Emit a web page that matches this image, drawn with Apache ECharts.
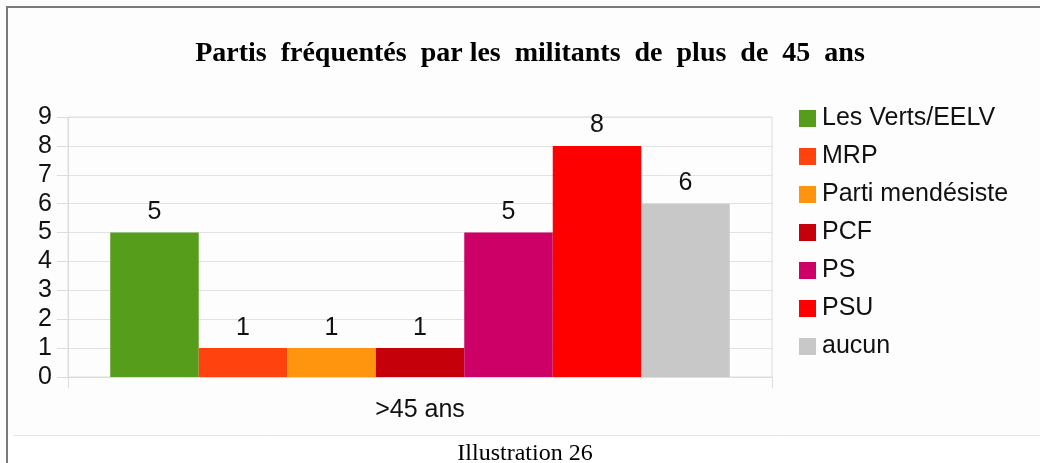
<!DOCTYPE html>
<html>
<head>
<meta charset="utf-8">
<script src="https://cdn.jsdelivr.net/npm/echarts@6/dist/echarts.min.js"></script>
<style>
  html, body { margin: 0; padding: 0; background: #fff; }
  #chart { width: 1040px; height: 463px; }
</style>
</head>
<body>
<div id="chart"></div>
<script>
  // donnees
  const categories = ['>45 ans']
  const partis = ['Les Verts/EELV', 'MRP', 'Parti mendésiste', 'PCF', 'PS', 'PSU', 'aucun']
  const valeurs = [5, 1, 1, 1, 5, 8, 6]
  const couleurs = ['#579d1c', '#ff420e', '#ff950e', '#c5000b', '#cc0066', '#ff0000', '#c8c8c8']
  const yTicks = [0, 1, 2, 3, 4, 5, 6, 7, 8, 9]

  const sansFont = '"Liberation Sans", Arial, sans-serif'
  const serifFont = '"Liberation Serif", "Times New Roman", serif'

  const series = partis.map((nom, i) => ({
    name: nom,
    type: 'bar',
    barGap: '0%',
    barCategoryGap: '12%',
    itemStyle: { color: couleurs[i] },
    label: {
      show: true,
      position: 'top',
      distance: 8,
      color: '#111',
      fontFamily: sansFont,
      fontSize: 25
    },
    data: [valeurs[i]]
  }))

  const option = {
    animation: false,
    backgroundColor: '#fdfdfd',
    title: [{
      // espaces larges comme dans l'original
      text: 'Partis  fréquentés  par les  militants  de  plus  de  45  ans',
      left: 525,
      top: 35,
      textAlign: 'center',
      textStyle: {
        fontFamily: serifFont,
        fontWeight: 'bold',
        fontSize: 28,
        color: '#000'
      }
    }, {
      text: 'Illustration 26',
      left: 520,
      top: 437,
      textAlign: 'center',
      textStyle: {
        fontFamily: serifFont,
        fontWeight: 'normal',
        fontSize: 24,
        color: '#000'
      }
    }],
    graphic: [
      { type: 'rect', shape: { x: 8, y: 436, width: 1032, height: 27 }, style: { fill: '#fff' }, z: -10 },
      { type: 'line', shape: { x1: 14, y1: 435.5, x2: 1040, y2: 435.5 }, style: { stroke: '#e4e4e4', lineWidth: 1 } },
      { type: 'line', shape: { x1: 7, y1: 7, x2: 1040, y2: 7 }, style: { stroke: '#7a7a7a', lineWidth: 2 } },
      { type: 'line', shape: { x1: 7, y1: 6, x2: 7, y2: 463 }, style: { stroke: '#7a7a7a', lineWidth: 2 } }
    ],
    legend: {
      orient: 'vertical',
      left: 799,
      top: 106,
      padding: 0,
      itemWidth: 17,
      itemHeight: 17,
      itemGap: 13,
      icon: 'rect',
      data: partis,
      textStyle: {
        fontFamily: sansFont,
        fontSize: 25,
        color: '#111',
        padding: [0, 0, 0, 1]
      }
    },
    grid: {
      left: 68,
      right: 268,
      top: 117,
      bottom: 86,
      show: true,
      borderColor: '#dcdcdc',
      borderWidth: 1
    },
    xAxis: {
      type: 'category',
      data: categories,
      axisLine: { lineStyle: { color: '#dcdcdc' } },
      axisTick: { show: true, length: 11, lineStyle: { color: '#dcdcdc' } },
      axisLabel: {
        margin: 21,
        color: '#111',
        fontFamily: sansFont,
        fontSize: 25
      }
    },
    yAxis: {
      type: 'value',
      min: 0,
      max: 9,
      interval: 1,
      axisLine: { show: true, lineStyle: { color: '#dcdcdc' } },
      axisTick: { show: true, length: 11, lineStyle: { color: '#dcdcdc' } },
      splitLine: { lineStyle: { color: '#e2e2e2' } },
      axisLabel: {
        margin: 16,
        color: '#111',
        fontFamily: sansFont,
        fontSize: 25,
        formatter: v => yTicks.includes(v) ? String(v) : ''
      }
    },
    series: series
  }

  const chart = echarts.init(document.getElementById('chart'))
  chart.setOption(option)
  window.addEventListener('resize', () => chart.resize())
</script>
</body>
</html>
